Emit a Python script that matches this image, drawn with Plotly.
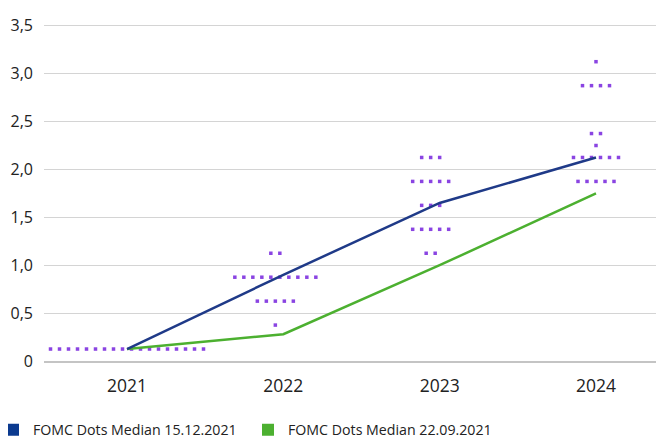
import plotly.graph_objects as go

# ---------------- data ----------------
years = ["2021", "2022", "2023", "2024"]
median_dec_2021 = [0.125, 0.9, 1.65, 2.125]     # FOMC Dots Median 15.12.2021
median_sep_2021 = [0.125, 0.28, 1.0, 1.75]      # FOMC Dots Median 22.09.2021

# individual dots: (rate level, number of participants) per year
dots_2021 = [(0.125, 18)]
dots_2022 = [(1.125, 2), (0.875, 10), (0.625, 5), (0.375, 1)]
dots_2023 = [(2.125, 3), (1.875, 5), (1.625, 3), (1.375, 5), (1.125, 2)]
dots_2024 = [(3.125, 1), (2.875, 4), (2.375, 2), (2.25, 1), (2.125, 6), (1.875, 5)]
dots_by_year = [dots_2021, dots_2022, dots_2023, dots_2024]

y_tick_vals = [0, 0.5, 1.0, 1.5, 2.0, 2.5, 3.0, 3.5]
y_tick_text = ["0", "0,5", "1,0", "1,5", "2,0", "2,5", "3,0", "3,5"]

series_names = ["FOMC Dots Median 15.12.2021", "FOMC Dots Median 22.09.2021"]

# ---------------- style ----------------
navy = "#1f3a88"
navy_legend = "#0b3a8f"
green = "#4cb030"
purple = "#8a44e2"
font_family = "Open Sans, Noto Sans, sans-serif"

px_per_cat = 156.33
dot_step = 9.0 / px_per_cat
group_shift_px = [0, -8, -9, 0]

dx, dy = [], []
for i, rows in enumerate(dots_by_year):
    center = i + group_shift_px[i] / px_per_cat
    for level, n in rows:
        for j in range(n):
            dx.append(center + (j - (n - 1) / 2) * dot_step)
            dy.append(level)

xi = list(range(len(years)))

fig = go.Figure()
fig.add_trace(go.Scatter(x=dx, y=dy, mode="markers",
                         marker=dict(symbol="square", size=3.5, color=purple, line=dict(width=0)),
                         showlegend=False, hoverinfo="skip"))
fig.add_trace(go.Scatter(x=xi, y=median_sep_2021, mode="lines",
                         line=dict(color=green, width=2.5), showlegend=False))
fig.add_trace(go.Scatter(x=xi, y=median_dec_2021, mode="lines",
                         line=dict(color=navy, width=2.5), showlegend=False))
# legend entries (square swatches)
fig.add_trace(go.Scatter(x=[None], y=[None], mode="markers", name=series_names[0],
                         marker=dict(symbol="square", size=9, color=navy_legend)))
fig.add_trace(go.Scatter(x=[None], y=[None], mode="markers", name=series_names[1],
                         marker=dict(symbol="square", size=9, color=green)))

# page body has an 8px margin, so the figure is 8px smaller than the window
fig.update_layout(
    width=656, height=431,
    margin=dict(l=36, r=0, t=13, b=78, autoexpand=False),
    plot_bgcolor="white", paper_bgcolor="white",
    font=dict(family=font_family, color="#222222", size=15),
    xaxis=dict(
        range=[-0.531, 3.435],
        tickvals=xi, ticktext=years,
        showgrid=False, zeroline=False,
        showline=True, linecolor="#c4c4c4", linewidth=2,
        ticks="", tickfont=dict(size=17.5), ticklabelstandoff=8,
        automargin=False,
    ),
    yaxis=dict(
        range=[0, 3.55],
        tickvals=y_tick_vals, ticktext=y_tick_text,
        showgrid=True, gridcolor="#d4d4d4", gridwidth=1,
        zeroline=False, showline=False,
        ticks="", tickfont=dict(size=16), ticklabelstandoff=10,
        automargin=False,
    ),
    legend=dict(
        orientation="h", xref="container", x=0, xanchor="left",
        y=-0.203, yanchor="middle", indentation=-15,
        entrywidth=225, entrywidthmode="pixels",
        font=dict(size=14.2, color="#222222"),
        itemsizing="constant", bgcolor="rgba(0,0,0,0)",
    ),
)

fig.write_html("out.html")
